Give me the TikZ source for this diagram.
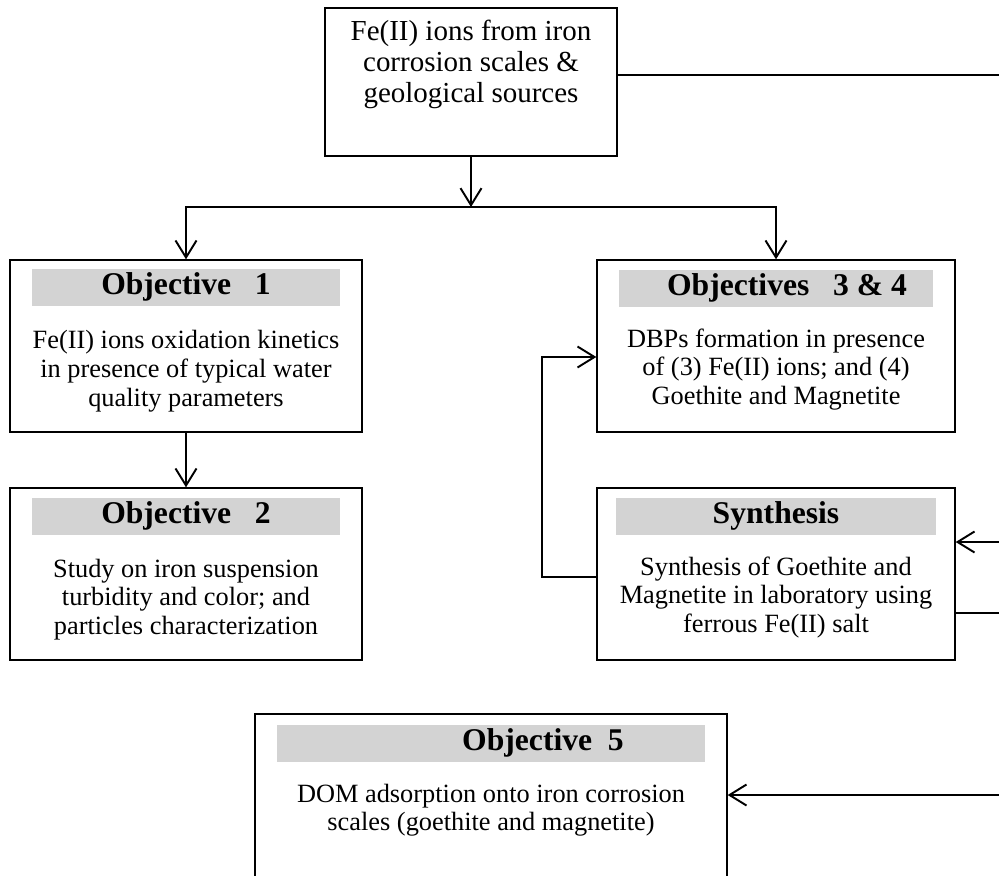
\documentclass[tikz,border=0pt]{standalone}
\usepackage{fontspec}
\setmainfont{Liberation Serif}
\usetikzlibrary{arrows.meta,positioning,calc}
\definecolor{hdrgray}{HTML}{D3D3D3}
\tikzset{
    block/.style = {draw, rectangle, line width=0.8pt, inner sep=0pt},
    hdr/.style = {fill=hdrgray, inner sep=0pt, minimum height=0.74cm,
        font=\fontsize{18}{20}\selectfont\bfseries},
    body/.style = {align=center, inner sep=0pt, font=\fontsize{15}{16.3}\selectfont},
    arrow/.style = {draw, line width=1.1pt, -{Straight Barb[length=0.34cm,width=0.42cm]}},
    line/.style = {draw, line width=1.1pt}
}

\begin{document}
\begin{tikzpicture}[x=0.02cm, y=-0.02cm]
        \useasboundingbox (0,0) rectangle (999,875);
        \clip (0,0) rectangle (999,875);
        \node [block, minimum width=5.84cm, minimum height=2.96cm] (src) at (471,82) {};
        \node [body, font=\fontsize{16.5}{17.6}\selectfont] (srct) at (471,64)
            {Fe(II) ions from iron\\corrosion scales \&\\geological sources};
        \node [block, minimum width=7.04cm, minimum height=3.44cm] (obj1) at (186,346) {};
        \node [block, minimum width=7.04cm, minimum height=3.44cm] (obj2) at (186,574) {};
        \node [block, minimum width=7.16cm, minimum height=3.44cm] (obj34) at (776,346) {};
        \node [block, minimum width=7.16cm, minimum height=3.44cm] (synth) at (776,574) {};
        \node [block, minimum width=9.44cm, minimum height=3.8cm] (obj5) at (491,809) {};
        \node [hdr, minimum width=6.16cm, below=0.18cm of obj1.north] (obj1h) {Objective\ \ \ 1};
        \node [hdr, minimum width=6.16cm, below=0.2cm of obj2.north] (obj2h) {Objective\ \ \ 2};
        \node [hdr, minimum width=6.3cm, below=0.2cm of obj34.north] (obj34h) {\hspace*{0.44cm}Objectives\ \ \ 3 \& 4};
        \node [hdr, minimum width=6.42cm, below=0.2cm of synth.north] (synthh) {Synthesis};
        \node [hdr, minimum width=8.56cm, below=0.22cm of obj5.north] (obj5h) {\hspace*{2.08cm}Objective\ \ 5};
        \node [body] (obj1t) at ($(obj1.north)+(0,112)$)
            {Fe(II) ions oxidation kinetics\\in presence of typical water\\quality parameters};
        \node [body] (obj2t) at ($(obj2.north)+(0,112)$)
            {Study on iron suspension\\turbidity and color; and\\particles characterization};
        \node [body] (obj34t) at ($(obj34.north)+(0,110)$)
            {DBPs formation in presence\\of (3) Fe(II) ions; and (4)\\Goethite and Magnetite};
        \node [body] (syntht) at ($(synth.north)+(0,110)$)
            {Synthesis of Goethite and\\Magnetite in laboratory using\\ferrous Fe(II) salt};
        \node [body] (obj5t) at ($(obj5.north)+(0,97)$)
            {DOM adsorption onto iron corrosion\\scales (goethite and magnetite)};
        \coordinate (split) at (471,207);
        \coordinate (srcout) at (999,75);
        \coordinate (synin) at (999,542);
        \coordinate (synout) at (999,613);
        \coordinate (ob5in) at (999,795);
        \draw [arrow] (src) -- (split);
        \draw [arrow] (split) -| (obj1);
        \draw [arrow] (split) -| (obj34);
        \draw [arrow] (obj1) -- (obj2);
        \draw [line] (srcout -| src.east) -- (srcout);
        \draw [arrow] (synin) -- (synin -| synth.east);
        \draw [line] (synout -| synth.east) -- (synout);
        \draw [arrow] ($(synth.west)+(0,3)$) -- ++(-54,0) |- ($(obj34.west)+(0,11)$);
        \draw [arrow] (ob5in) -- (ob5in -| obj5.east);
\end{tikzpicture}
\end{document}
